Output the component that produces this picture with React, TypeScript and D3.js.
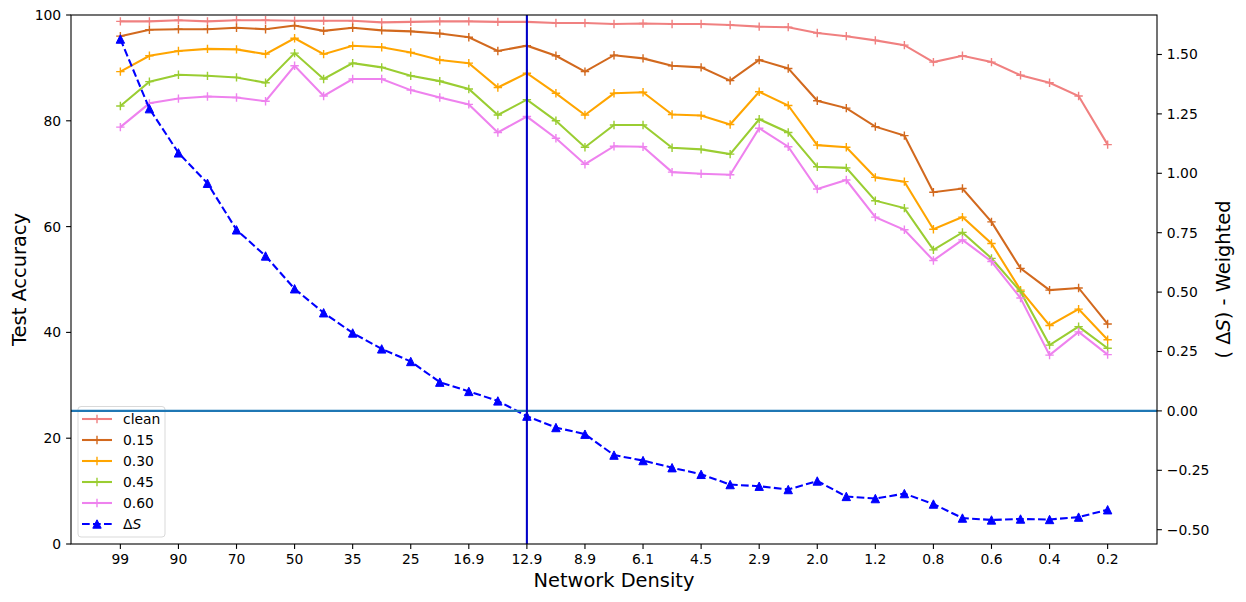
import * as d3 from 'd3';

// values, index 0 = density 99 ... index 34 = density 0.2
const clean = [98.8, 98.8, 99.0, 98.8, 99.0, 99.0, 98.9, 98.9, 98.9, 98.6, 98.7, 98.8, 98.8, 98.7, 98.7, 98.5, 98.5, 98.3, 98.4, 98.3, 98.3, 98.1, 97.8, 97.7, 96.6, 96.0, 95.2, 94.3, 91.1, 92.3, 91.1, 88.6, 87.2, 84.7, 75.5];
const noise015 = [96.0, 97.2, 97.3, 97.3, 97.6, 97.3, 98.0, 97.0, 97.6, 97.1, 96.9, 96.5, 95.8, 93.2, 94.2, 92.3, 89.3, 92.4, 91.8, 90.4, 90.1, 87.6, 91.5, 89.9, 83.8, 82.4, 78.9, 77.2, 66.5, 67.2, 60.9, 52.1, 48.0, 48.4, 41.6];
const noise030 = [89.3, 92.3, 93.2, 93.6, 93.5, 92.6, 95.6, 92.6, 94.2, 93.9, 92.9, 91.5, 90.9, 86.3, 89.0, 85.2, 81.1, 85.2, 85.4, 81.2, 81.0, 79.3, 85.5, 82.9, 75.4, 75.0, 69.3, 68.5, 59.5, 61.8, 56.8, 48.0, 41.3, 44.4, 38.6];
const noise045 = [82.8, 87.4, 88.7, 88.5, 88.2, 87.2, 92.8, 87.9, 90.9, 90.1, 88.5, 87.5, 86.0, 81.1, 84.0, 80.0, 75.0, 79.2, 79.2, 74.9, 74.6, 73.7, 80.3, 77.8, 71.3, 71.1, 64.9, 63.5, 55.6, 58.9, 54.0, 47.7, 37.6, 41.1, 37.0];
const noise060 = [78.8, 83.3, 84.2, 84.6, 84.4, 83.7, 90.4, 84.7, 87.9, 87.9, 85.8, 84.4, 83.1, 77.8, 80.8, 76.7, 71.8, 75.2, 75.1, 70.3, 70.0, 69.8, 78.6, 75.1, 67.1, 68.8, 61.8, 59.4, 53.6, 57.5, 53.4, 46.5, 35.7, 40.1, 35.8];
const deltaS = [1.565, 1.272, 1.086, 0.958, 0.762, 0.652, 0.514, 0.413, 0.328, 0.261, 0.208, 0.121, 0.082, 0.042, -0.022, -0.070, -0.098, -0.186, -0.209, -0.239, -0.267, -0.310, -0.317, -0.331, -0.295, -0.360, -0.369, -0.348, -0.392, -0.451, -0.459, -0.455, -0.457, -0.447, -0.416];

// every second point carries a label
const densityLabels = ['99', '90', '70', '50', '35', '25', '16.9', '12.9', '8.9', '6.1', '4.5', '2.9', '2.0', '1.2', '0.8', '0.6', '0.4', '0.2'];
const leftTicks = [0, 20, 40, 60, 80, 100];
const rightTicks = [-0.5, -0.25, 0, 0.25, 0.5, 0.75, 1.0, 1.25, 1.5];
const markerIndex = 14; // vertical line at 12.9

const seriesNames = ['clean', '0.15', '0.30', '0.45', '0.60'];
const seriesColors = ['lightcoral', 'chocolate', 'orange', 'yellowgreen', 'violet'];
const seriesValues = [clean, noise015, noise030, noise045, noise060];

const W = 1246;
const H = 602;
const M = { left: 71, right: 1157, top: 15, bottom: 544 };
const FONT = '"DejaVu Sans", sans-serif';

const n = clean.length;
const x = d3.scaleLinear().domain([-(n - 1) * 0.05, (n - 1) * 1.05]).range([M.left, M.right]);
const yL = d3.scaleLinear().domain([0, 100]).range([M.bottom, M.top]);
const [sMin, sMax] = d3.extent(deltaS) as [number, number];
const pad = (sMax - sMin) * 0.05;
const yR = d3.scaleLinear().domain([sMin - pad, sMax + pad]).range([M.bottom, M.top]);

const minus = (s: string) => s.replace('-', '\u2212');

const Plus = ({ cx, cy, color }: { cx: number; cy: number; color: string }) => (
  <path d={`M${cx - 4.2},${cy}H${cx + 4.2}M${cx},${cy - 4.2}V${cy + 4.2}`} stroke={color} strokeWidth={1.4} fill="none" />
);

const Tri = ({ cx, cy }: { cx: number; cy: number }) => (
  <path d={`M${cx},${cy - 4.2}L${cx - 4.2},${cy + 4.2}L${cx + 4.2},${cy + 4.2}Z`} fill="blue" stroke="blue" strokeWidth={1} />
);

export default function App() {
  const lineL = d3.line<number>().x((_, i) => x(i)).y((d) => yL(d));
  const lineR = d3.line<number>().x((_, i) => x(i)).y((d) => yR(d));

  const legendRows = [...seriesNames, 'dS'];

  return (
    <svg width={W} height={H} style={{ position: 'absolute', left: 0, top: 0, background: '#fff' }} fontFamily={FONT}>
      <rect width={W} height={H} fill="#fff" />

      {/* accuracy series */}
      {seriesValues.map((vals, k) => (
        <g key={seriesNames[k]}>
          <path d={lineL(vals) || ''} fill="none" stroke={seriesColors[k]} strokeWidth={2.08} />
          {vals.map((v, i) => (
            <Plus key={i} cx={x(i)} cy={yL(v)} color={seriesColors[k]} />
          ))}
        </g>
      ))}

      {/* legend */}
      <g>
        <rect x={78} y={406.5} width={87} height={130.5} rx={3} fill="#fff" fillOpacity={0.8} stroke="#d9d9d9" strokeWidth={1} />
        {legendRows.map((name, k) => {
          const cy = 419 + k * 21;
          if (name === 'dS') {
            return (
              <g key={name}>
                <line x1={82} x2={112} y1={cy} y2={cy} stroke="blue" strokeWidth={2.08} strokeDasharray="7.7,3.3" />
                <Tri cx={97} cy={cy} />
                <text x={123} y={cy} dy="0.36em" fontSize={13.9} fill="#000">
                  Δ<tspan fontStyle="italic">S</tspan>
                </text>
              </g>
            );
          }
          return (
            <g key={name}>
              <line x1={82} x2={112} y1={cy} y2={cy} stroke={seriesColors[k]} strokeWidth={2.08} />
              <Plus cx={97} cy={cy} color={seriesColors[k]} />
              <text x={123} y={cy} dy="0.36em" fontSize={13.9} fill="#000">{name}</text>
            </g>
          );
        })}
      </g>

      {/* delta S on the right axis */}
      <path d={lineR(deltaS) || ''} fill="none" stroke="blue" strokeWidth={2.08} strokeDasharray="7.7,3.3" />
      {deltaS.map((v, i) => (
        <Tri key={i} cx={x(i)} cy={yR(v)} />
      ))}
      <line x1={M.left} x2={M.right} y1={yR(0)} y2={yR(0)} stroke="#1f77b4" strokeWidth={2.08} />
      <line x1={x(markerIndex)} x2={x(markerIndex)} y1={M.top} y2={M.bottom} stroke="#0000c8" strokeWidth={2.08} />

      {/* frame */}
      <rect x={M.left} y={M.top} width={M.right - M.left} height={M.bottom - M.top} fill="none" stroke="#000" strokeWidth={1.1} />

      {/* x axis */}
      {densityLabels.map((lab, k) => {
        const px = x(k * 2);
        return (
          <g key={lab + k}>
            <line x1={px} x2={px} y1={M.bottom} y2={M.bottom + 4.9} stroke="#000" strokeWidth={1.1} />
            <text x={px} y={564} textAnchor="middle" fontSize={13.9} fill="#000">{lab}</text>
          </g>
        );
      })}
      <text x={(M.left + M.right) / 2} y={587} textAnchor="middle" fontSize={19.4} fill="#000">Network Density</text>

      {/* left axis */}
      {leftTicks.map((t) => (
        <g key={t}>
          <line x1={M.left - 4.9} x2={M.left} y1={yL(t)} y2={yL(t)} stroke="#000" strokeWidth={1.1} />
          <text x={M.left - 9.8} y={yL(t)} dy="0.36em" textAnchor="end" fontSize={13.9} fill="#000">{t}</text>
        </g>
      ))}
      <text transform={`translate(25.5,${(M.top + M.bottom) / 2}) rotate(-90)`} textAnchor="middle" fontSize={19.4} fill="#000">Test Accuracy</text>

      {/* right axis */}
      {rightTicks.map((t) => (
        <g key={t}>
          <line x1={M.right} x2={M.right + 4.9} y1={yR(t)} y2={yR(t)} stroke="#000" strokeWidth={1.1} />
          <text x={M.right + 9.8} y={yR(t)} dy="0.36em" textAnchor="start" fontSize={13.9} fill="#000">{minus(t.toFixed(2))}</text>
        </g>
      ))}
      <text transform={`translate(1230,${(M.top + M.bottom) / 2}) rotate(-90)`} textAnchor="middle" fontSize={19.4} fill="#000">
        ( Δ<tspan fontStyle="italic">S</tspan>) - Weighted
      </text>
    </svg>
  );
}
